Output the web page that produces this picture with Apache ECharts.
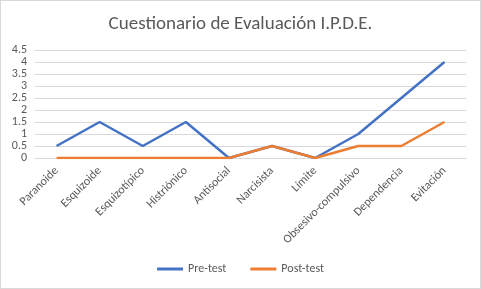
<!DOCTYPE html>
<html><head><meta charset="utf-8">
<script src="https://cdn.jsdelivr.net/npm/echarts@6/dist/echarts.min.js"></script>
<style>html,body{margin:0;padding:0;background:#fff}#c{width:479px;height:287px;border:1px solid #d9d9d9}</style>
</head><body><div id="c"></div>
<script>
const categories = ["Paranoide","Esquizoide","Esquizotípico","Histriónico","Antisocial","Narcisista","Límite","Obsesivo-compulsivo","Dependencia","Evitación"];
const preTest = [0.5,1.5,0.5,1.5,0,0.5,0,1,2.5,4];
const postTest = [0,0,0,0,0,0.5,0,0.5,0.5,1.5];
const FONT = "Carlito, 'Open Sans', 'Noto Sans', sans-serif";
const chart = echarts.init(document.getElementById('c'), null, {renderer:'canvas'});
chart.setOption({
  animation:false,
  textStyle:{fontFamily:FONT},
  title:{text:"Cuestionario de Evaluación I.P.D.E.",left:'center',top:9,textStyle:{fontFamily:FONT,fontSize:19,fontWeight:'normal',color:'#595959'}},
  legend:{bottom:8,left:'center',itemWidth:26,itemHeight:3,itemGap:24,icon:'rect',textStyle:{fontFamily:FONT,fontSize:12,color:'#595959'},data:['Pre-test','Post-test']},
  grid:{left:34,right:14,top:49,bottom:130,containLabel:false},
  xAxis:{type:'category',data:categories,boundaryGap:true,axisLine:{show:true,lineStyle:{color:'#d9d9d9'}},axisTick:{show:false},
    axisLabel:{rotate:45,interval:0,fontFamily:FONT,fontSize:12,color:'#595959',margin:11}},
  yAxis:{type:'value',min:0,max:4.5,interval:0.5,axisLine:{show:false},axisTick:{show:false},
    axisLabel:{fontFamily:FONT,fontSize:12,color:'#595959',margin:8},splitLine:{lineStyle:{color:'#d9d9d9'}}},
  series:[
    {name:'Pre-test',type:'line',data:preTest,symbol:'none',lineStyle:{width:2.5,color:'#4472C4'},itemStyle:{color:'#4472C4'}},
    {name:'Post-test',type:'line',data:postTest,symbol:'none',lineStyle:{width:2.5,color:'#ED7D31'},itemStyle:{color:'#ED7D31'}}
  ]
});
</script></body></html>
